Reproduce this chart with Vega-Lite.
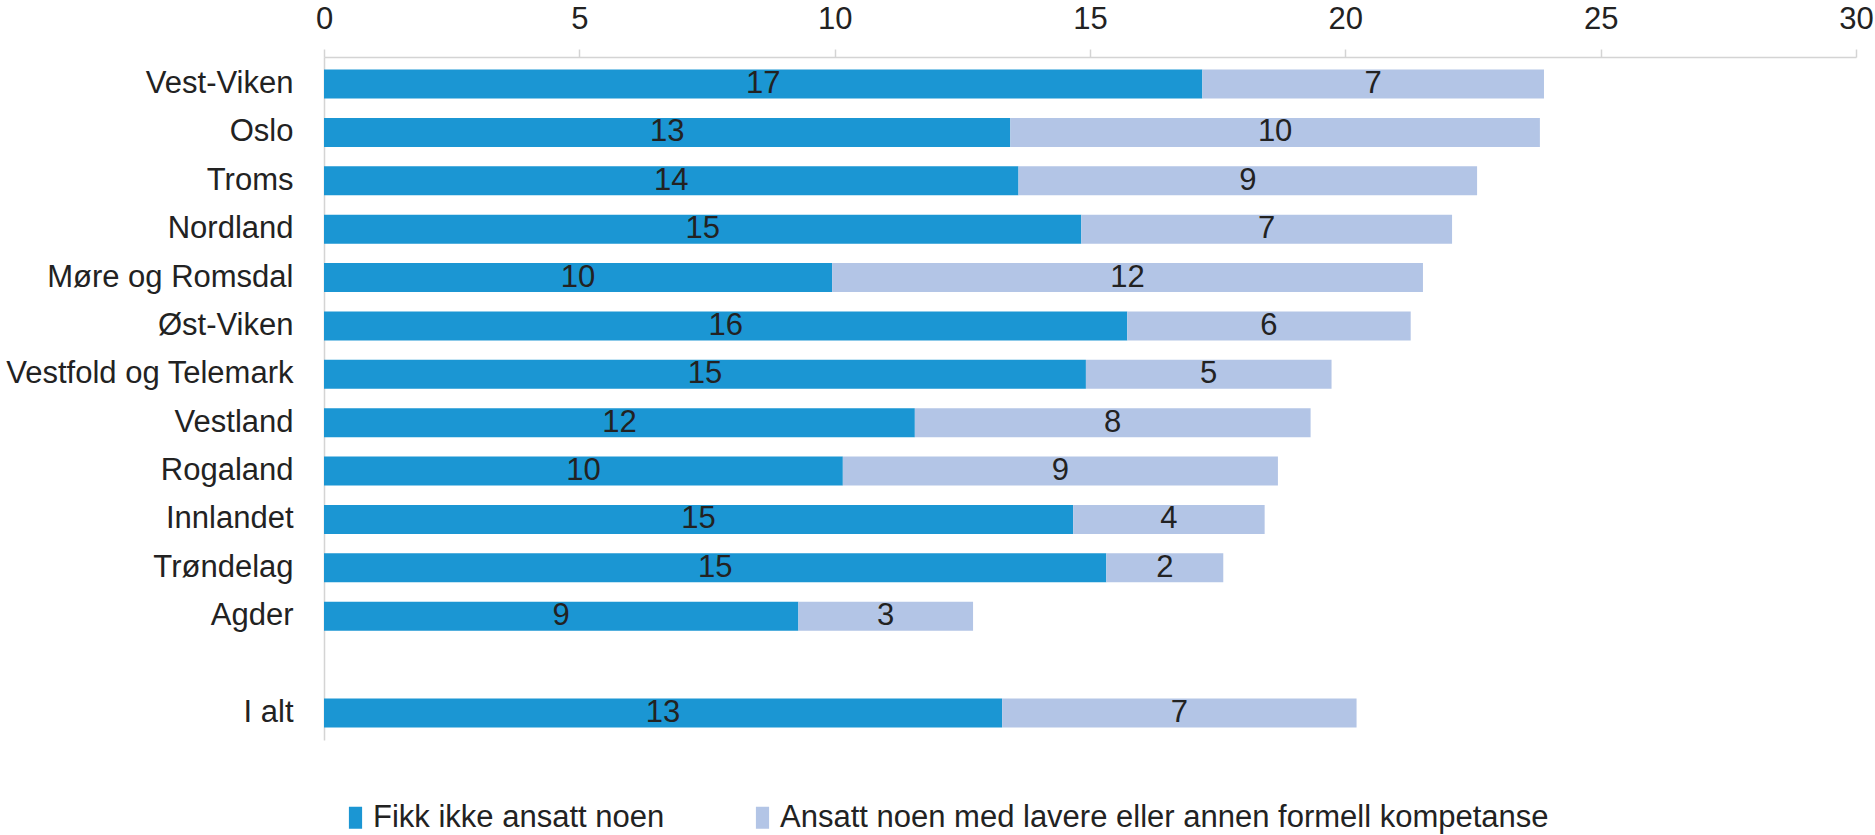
{
  "$schema": "https://vega.github.io/schema/vega-lite/v6.json",
  "autosize": "none",
  "width": 1532,
  "height": 683,
  "padding": {"left": 324, "top": 57, "right": 19, "bottom": 95},
  "background": "white",
  "config": {
    "view": {"stroke": null},
    "font": "Liberation Sans",
    "text": {"font": "Liberation Sans"}
  },
  "data": {
    "values": [
      {"region": "Vest-Viken", "kategori": "Fikk ikke ansatt noen", "i": 1, "verdi": 17.2},
      {"region": "Vest-Viken", "kategori": "Ansatt noen med lavere eller annen formell kompetanse", "i": 2, "verdi": 6.69},
      {"region": "Oslo", "kategori": "Fikk ikke ansatt noen", "i": 1, "verdi": 13.44},
      {"region": "Oslo", "kategori": "Ansatt noen med lavere eller annen formell kompetanse", "i": 2, "verdi": 10.37},
      {"region": "Troms", "kategori": "Fikk ikke ansatt noen", "i": 1, "verdi": 13.6},
      {"region": "Troms", "kategori": "Ansatt noen med lavere eller annen formell kompetanse", "i": 2, "verdi": 8.98},
      {"region": "Nordland", "kategori": "Fikk ikke ansatt noen", "i": 1, "verdi": 14.83},
      {"region": "Nordland", "kategori": "Ansatt noen med lavere eller annen formell kompetanse", "i": 2, "verdi": 7.26},
      {"region": "Møre og Romsdal", "kategori": "Fikk ikke ansatt noen", "i": 1, "verdi": 9.95},
      {"region": "Møre og Romsdal", "kategori": "Ansatt noen med lavere eller annen formell kompetanse", "i": 2, "verdi": 11.57},
      {"region": "Øst-Viken", "kategori": "Fikk ikke ansatt noen", "i": 1, "verdi": 15.73},
      {"region": "Øst-Viken", "kategori": "Ansatt noen med lavere eller annen formell kompetanse", "i": 2, "verdi": 5.55},
      {"region": "Vestfold og Telemark", "kategori": "Fikk ikke ansatt noen", "i": 1, "verdi": 14.92},
      {"region": "Vestfold og Telemark", "kategori": "Ansatt noen med lavere eller annen formell kompetanse", "i": 2, "verdi": 4.81},
      {"region": "Vestland", "kategori": "Fikk ikke ansatt noen", "i": 1, "verdi": 11.57},
      {"region": "Vestland", "kategori": "Ansatt noen med lavere eller annen formell kompetanse", "i": 2, "verdi": 7.75},
      {"region": "Rogaland", "kategori": "Fikk ikke ansatt noen", "i": 1, "verdi": 10.16},
      {"region": "Rogaland", "kategori": "Ansatt noen med lavere eller annen formell kompetanse", "i": 2, "verdi": 8.52},
      {"region": "Innlandet", "kategori": "Fikk ikke ansatt noen", "i": 1, "verdi": 14.67},
      {"region": "Innlandet", "kategori": "Ansatt noen med lavere eller annen formell kompetanse", "i": 2, "verdi": 3.75},
      {"region": "Trøndelag", "kategori": "Fikk ikke ansatt noen", "i": 1, "verdi": 15.32},
      {"region": "Trøndelag", "kategori": "Ansatt noen med lavere eller annen formell kompetanse", "i": 2, "verdi": 2.29},
      {"region": "Agder", "kategori": "Fikk ikke ansatt noen", "i": 1, "verdi": 9.29},
      {"region": "Agder", "kategori": "Ansatt noen med lavere eller annen formell kompetanse", "i": 2, "verdi": 3.42},
      {"region": "I alt", "kategori": "Fikk ikke ansatt noen", "i": 1, "verdi": 13.28},
      {"region": "I alt", "kategori": "Ansatt noen med lavere eller annen formell kompetanse", "i": 2, "verdi": 6.94}
    ]
  },
  "encoding": {
    "y": {
      "field": "region",
      "type": "nominal",
      "scale": {
        "domain": ["Vest-Viken", "Oslo", "Troms", "Nordland", "Møre og Romsdal", "Øst-Viken", "Vestfold og Telemark", "Vestland", "Rogaland", "Innlandet", "Trøndelag", "Agder", " ", "I alt"],
        "paddingInner": 0.4,
        "paddingOuter": 0.26
      },
      "axis": {
        "title": null,
        "ticks": false,
        "labelFontSize": 31,
        "labelColor": "#222222",
        "labelPadding": 31,
        "labelLimit": 400,
        "domainColor": "#d4d4d4",
        "domainWidth": 1.5
      }
    }
  },
  "layer": [
    {
      "mark": {"type": "bar"},
      "encoding": {
        "x": {
          "field": "verdi",
          "type": "quantitative",
          "stack": "zero",
          "scale": {"domain": [0, 30], "nice": false},
          "axis": {
            "orient": "top",
            "title": null,
            "values": [0, 5, 10, 15, 20, 25, 30],
            "grid": false,
            "labelFontSize": 31,
            "labelColor": "#222222",
            "labelFlush": false,
            "labelPadding": 14,
            "tickSize": 8,
            "tickColor": "#d4d4d4",
            "tickWidth": 1.5,
            "domainColor": "#d4d4d4",
            "domainWidth": 1.5
          }
        },
        "color": {
          "field": "kategori",
          "type": "nominal",
          "sort": ["Fikk ikke ansatt noen", "Ansatt noen med lavere eller annen formell kompetanse"],
          "scale": {
            "domain": ["Fikk ikke ansatt noen", "Ansatt noen med lavere eller annen formell kompetanse"],
            "range": ["#1b96d3", "#b3c5e6"]
          },
          "legend": {
            "title": null,
            "orient": "none",
            "direction": "horizontal",
            "legendX": 16,
            "legendY": 745,
            "symbolType": "M-0.6,-1H0.6V1H-0.6Z",
            "symbolSize": 484,
            "symbolStrokeWidth": 0,
            "labelFontSize": 31,
            "labelColor": "#222222",
            "labelOffset": 2,
            "labelLimit": 900,
            "columnPadding": 82
          }
        },
        "order": {"field": "i", "type": "quantitative"}
      }
    },
    {
      "mark": {"type": "text", "fontSize": 31, "color": "#222222", "align": "center", "baseline": "middle"},
      "encoding": {
        "x": {"field": "verdi", "type": "quantitative", "stack": "zero", "bandPosition": 0.5},
        "detail": {"field": "kategori", "type": "nominal"},
        "order": {"field": "i", "type": "quantitative"},
        "text": {"field": "verdi", "type": "quantitative", "format": ".0f"}
      }
    }
  ]
}
